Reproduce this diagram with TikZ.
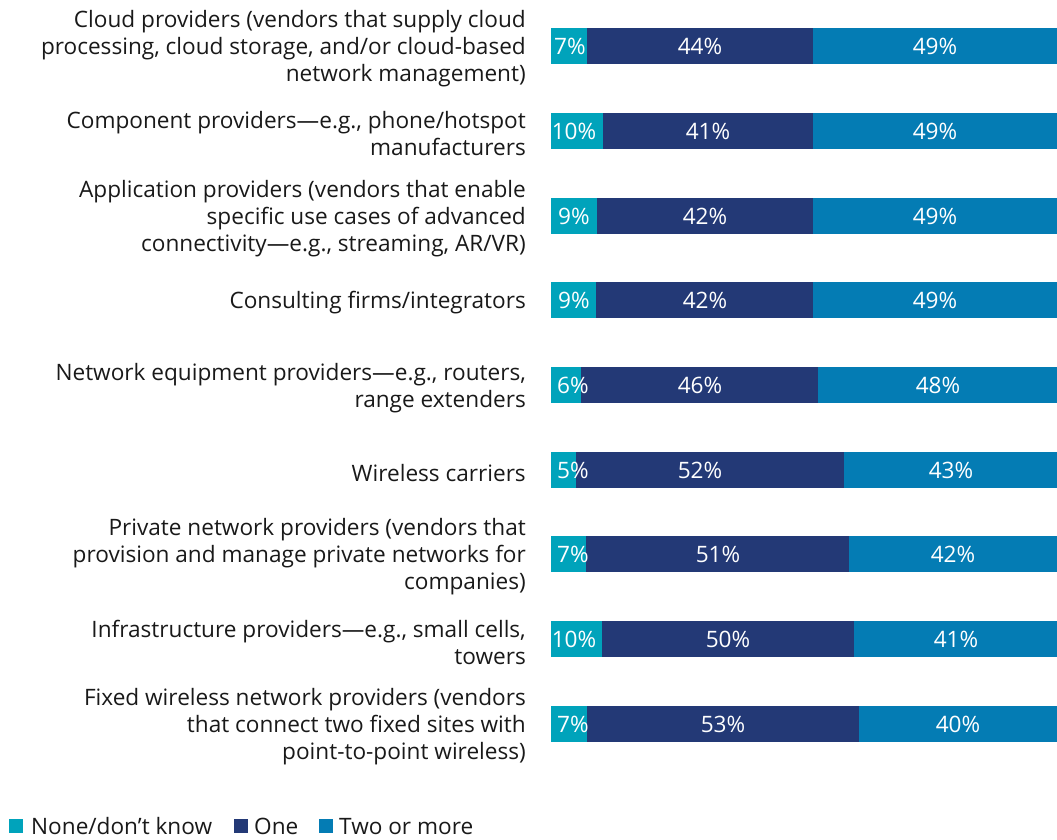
\documentclass[tikz,border=0pt]{standalone}
\usepackage{fontspec}
\setmainfont{Open Sans}
\usepackage{xcolor}
\usepackage{tikz}

\definecolor{nonec}{RGB}{0,163,187}
\definecolor{onec}{RGB}{35,57,118}
\definecolor{twoc}{RGB}{4,124,180}

\begin{document}
\begin{tikzpicture}[x=1pt, y=-1pt, font=\fontsize{22.6}{27}\selectfont]
\useasboundingbox (0,0) rectangle (1057,839);
\begin{scope}[every node/.style={anchor=east, align=right, inner sep=0pt, text=black!90}]
    \node (l1) at (526,49) {Cloud providers (vendors that supply cloud\\processing, cloud storage, and/or cloud-based\\network management)};
    \node (l2) at (526,134) {Component providers---e.g., phone/hotspot\\manufacturers};
    \node (l3) at (526,219) {Application providers (vendors that enable\\specific use cases of advanced\\connectivity---e.g., streaming, AR/VR)};
    \node (l4) at (526,303) {Consulting firms/integrators};
    \node (l5) at (526,388) {Network equipment providers---e.g., routers,\\range extenders};
    \node (l6) at (526,473) {Wireless carriers};
    \node (l7) at (526,557) {Private network providers (vendors that\\provision and manage private networks for\\companies)};
    \node (l8) at (526,642) {Infrastructure providers---e.g., small cells,\\towers};
    \node (l9) at (526,727) {Fixed wireless network providers (vendors\\that connect two fixed sites with\\point-to-point wireless)};
\end{scope}
\fill[nonec] (551,28) rectangle (587,64);   \fill[onec] (587,28) rectangle (813,64);   \fill[twoc] (813,28) rectangle (1057,64);
\fill[nonec] (551,113) rectangle (603,149); \fill[onec] (603,113) rectangle (813,149); \fill[twoc] (813,113) rectangle (1057,149);
\fill[nonec] (551,198) rectangle (597,234); \fill[onec] (597,198) rectangle (813,234); \fill[twoc] (813,198) rectangle (1057,234);
\fill[nonec] (551,282) rectangle (596,318); \fill[onec] (596,282) rectangle (813,318); \fill[twoc] (813,282) rectangle (1057,318);
\fill[nonec] (551,367) rectangle (581,403); \fill[onec] (581,367) rectangle (818,403); \fill[twoc] (818,367) rectangle (1057,403);
\fill[nonec] (551,452) rectangle (576,488); \fill[onec] (576,452) rectangle (844,488); \fill[twoc] (844,452) rectangle (1057,488);
\fill[nonec] (551,536) rectangle (586,572); \fill[onec] (586,536) rectangle (849,572); \fill[twoc] (849,536) rectangle (1057,572);
\fill[nonec] (551,621) rectangle (602,657); \fill[onec] (602,621) rectangle (854,657); \fill[twoc] (854,621) rectangle (1057,657);
\fill[nonec] (551,706) rectangle (587,742); \fill[onec] (587,706) rectangle (859,742); \fill[twoc] (859,706) rectangle (1057,742);
\begin{scope}[every node/.style={inner sep=0pt, text=white}]
    \node (n1) at (570,46) {7\%};  \node (o1) at (700,46) {44\%};  \node (t1) at (935,46) {49\%};
    \node (n2) at (574,131) {10\%}; \node (o2) at (708,131) {41\%};  \node (t2) at (935,131) {49\%};
    \node (n3) at (574,216) {9\%};  \node (o3) at (705,216) {42\%};  \node (t3) at (935,216) {49\%};
    \node (n4) at (574,300) {9\%};  \node (o4) at (705,300) {42\%};  \node (t4) at (935,300) {49\%};
    \node (n5) at (573,385) {6\%};  \node (o5) at (700,385) {46\%};  \node (t5) at (938,385) {48\%};
    \node (n6) at (573,470) {5\%};  \node (o6) at (700,470) {52\%};  \node (t6) at (951,470) {43\%};
    \node (n7) at (573,554) {7\%};  \node (o7) at (718,554) {51\%};  \node (t7) at (953,554) {42\%};
    \node (n8) at (574,639) {10\%}; \node (o8) at (728,639) {50\%};  \node (t8) at (956,639) {41\%};
    \node (n9) at (573,724) {7\%};  \node (o9) at (723,724) {53\%};  \node (t9) at (958,724) {40\%};
\end{scope}
\begin{scope}[every node/.style={anchor=base west, inner sep=0pt, text=black!90}]
    \fill[nonec] (9,819) rectangle (23,833);
    \node (k1) at (31,834) {None/don’t know};
    \fill[onec] (234,819) rectangle (248,833);
    \node (k2) at (254,834) {One};
    \fill[twoc] (319,819) rectangle (333,833);
    \node (k3) at (339,834) {Two or more};
\end{scope}
\end{tikzpicture}
\end{document}
